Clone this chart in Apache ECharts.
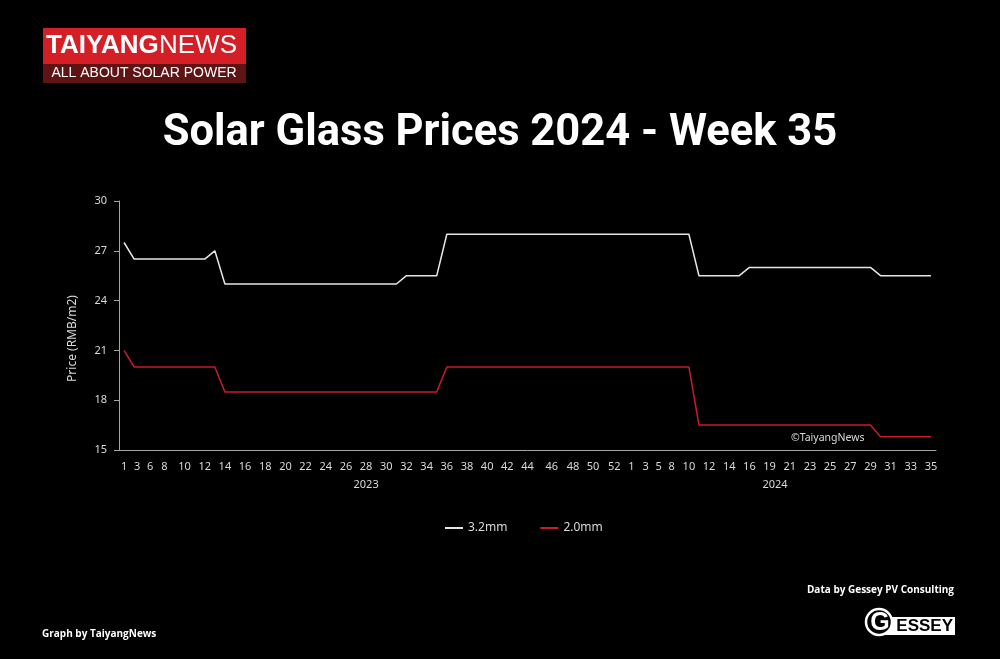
<!DOCTYPE html>
<html>
<head>
<meta charset="utf-8">
<script src="https://cdn.jsdelivr.net/npm/echarts@6/dist/echarts.min.js"></script>
<style>
html,body{margin:0;padding:0;background:#000;}
#chart{width:1000px;height:659px;}
</style>
</head>
<body>
<div id="chart"></div>
<script>
// Week categories (data points as spaced on the source chart)
var weeks2023 = ['1','3','6','7','8','9','10','11','12','13','14','15','16','17','18','19','20','21','22','23','24','25','26','27','28','29','30','31','32','33','34','35','36','37','38','39','40','41','42','43','44','45','46','47','47','48','49','50','51','52'];
var weeks2024 = ['1','2','3','5','8','9','10','11','12','13','14','15','16','18','19','20','21','22','23','24','25','26','27','28','29','30','31','32','33','34','35'];

// Tick labels shown on the axis
var tickLabels2023 = ['1','3','6','8','10','12','14','16','18','20','22','24','26','28','30','32','34','36','38','40','42','44','46','48','50','52'];
var tickLabels2024 = ['1','3','5','8','10','12','14','16','19','21','23','25','27','29','31','33','35'];
var years = ['2023','2024'];

// Prices (RMB/m2)
var glass32_2023 = [27.5,26.5,26.5,26.5,26.5,26.5,26.5,26.5,26.5,27,25,25,25,25,25,25,25,25,25,25,25,25,25,25,25,25,25,25,25.5,25.5,25.5,25.5,28,28,28,28,28,28,28,28,28,28,28,28,28,28,28,28,28,28];
var glass32_2024 = [28,28,28,28,28,28,28,25.5,25.5,25.5,25.5,25.5,26,26,26,26,26,26,26,26,26,26,26,26,26,25.5,25.5,25.5,25.5,25.5,25.5];
var glass20_2023 = [21,20,20,20,20,20,20,20,20,20,18.5,18.5,18.5,18.5,18.5,18.5,18.5,18.5,18.5,18.5,18.5,18.5,18.5,18.5,18.5,18.5,18.5,18.5,18.5,18.5,18.5,18.5,20,20,20,20,20,20,20,20,20,20,20,20,20,20,20,20,20,20];
var glass20_2024 = [20,20,20,20,20,20,20,16.5,16.5,16.5,16.5,16.5,16.5,16.5,16.5,16.5,16.5,16.5,16.5,16.5,16.5,16.5,16.5,16.5,16.5,15.8,15.8,15.8,15.8,15.8,15.8];

var categories = weeks2023.concat(weeks2024);
var n2023 = weeks2023.length;

// which category indices show a tick label
var shown = {};
(function(){
  var j = 0, i;
  for (i = 0; i < weeks2023.length && j < tickLabels2023.length; i++) {
    if (weeks2023[i] === tickLabels2023[j]) { shown[i] = true; j++; }
  }
  j = 0;
  for (i = 0; i < weeks2024.length && j < tickLabels2024.length; i++) {
    if (weeks2024[i] === tickLabels2024[j]) { shown[n2023 + i] = true; j++; }
  }
})();

// small horizontal nudges of some tick labels (layout only)
var labelNudge = { 1: 3, 2: 6, 42: 4, 45: -5, 47: -5, 49: -4, 50: 3, 52: -3, 54: 3 };
var baseLabel = { color: '#d9d9d9', fontFamily: 'Noto Sans', fontSize: 11 };
var richLabels = {};
Object.keys(labelNudge).forEach(function (k) {
  var dx = labelNudge[k];
  richLabels['n' + k] = Object.assign({}, baseLabel, { padding: dx > 0 ? [0, 0, 0, 2 * dx] : [0, -2 * dx, 0, 0] });
});

var yearIdx2023 = 24;
var yearIdx2024 = 64;

var chart = echarts.init(document.getElementById('chart'));
var txt = '#d9d9d9';
var axisCol = '#a6a6a6';
var option = {
  backgroundColor: '#000000',
  animation: false,
  title: {
    text: 'Solar Glass Prices 2024 - Week 35',
    left: 'center',
    top: 107,
    textStyle: { color: '#ffffff', fontFamily: 'Roboto', fontWeight: 'bold', fontSize: 43.5 }
  },
  legend: {
    left: 440,
    top: 517,
    icon: 'rect',
    itemWidth: 18,
    itemHeight: 2,
    itemGap: 33,
    textStyle: { color: txt, fontFamily: 'Noto Sans', fontSize: 12 },
    data: ['3.2mm', '2.0mm']
  },
  grid: { left: 119, right: 64, top: 201, bottom: 209, containLabel: false },
  xAxis: [{
    type: 'category',
    data: categories,
    boundaryGap: true,
    axisLine: { show: true, lineStyle: { color: axisCol, width: 1 } },
    axisTick: { show: false },
    axisLabel: {
      color: txt, fontFamily: 'Noto Sans', fontSize: 11, margin: 11,
      hideOverlap: false,
      interval: function (index) { return !!shown[index]; },
      formatter: function (v, index) {
        return labelNudge[index] !== undefined ? '{n' + index + '|' + v + '}' : v;
      },
      rich: richLabels
    }
  }, {
    type: 'category',
    data: categories,
    boundaryGap: true,
    position: 'bottom',
    offset: 18,
    axisLine: { show: false },
    axisTick: { show: false },
    axisLabel: {
      color: txt, fontFamily: 'Noto Sans', fontSize: 11, margin: 11,
      interval: function (index) { return index === yearIdx2023 || index === yearIdx2024; },
      formatter: function (v, index) {
        if (index === yearIdx2023) return years[0];
        if (index === yearIdx2024) return '{p|' + years[1] + '}';
        return '';
      },
      rich: { p: { color: txt, fontFamily: 'Noto Sans', fontSize: 11, padding: [0, 0, 0, 11] } }
    }
  }],
  yAxis: {
    type: 'value',
    min: 15,
    max: 30,
    interval: 3,
    name: 'Price (RMB/m2)',
    nameLocation: 'middle',
    nameGap: 40,
    nameTextStyle: { color: txt, fontFamily: 'Noto Sans', fontSize: 12, padding: [0, 26, 0, 0] },
    axisLine: { show: true, lineStyle: { color: axisCol, width: 1 } },
    axisTick: { show: true, length: 5, lineStyle: { color: axisCol } },
    splitLine: { show: false },
    axisLabel: { color: txt, fontFamily: 'Noto Sans', fontSize: 11, margin: 12 }
  },
  series: [{
    name: '3.2mm',
    type: 'line',
    data: glass32_2023.concat(glass32_2024),
    showSymbol: false,
    symbol: 'none',
    itemStyle: { color: '#e6e6e6' },
    lineStyle: { color: '#e6e6e6', width: 1.5 }
  }, {
    name: '2.0mm',
    type: 'line',
    data: glass20_2023.concat(glass20_2024),
    showSymbol: false,
    symbol: 'none',
    itemStyle: { color: '#c81a2a' },
    lineStyle: { color: '#c81a2a', width: 1.5 }
  }],
  graphic: [
    { type: 'rect', shape: { x: 43, y: 28, width: 203, height: 36 }, style: { fill: '#d51f26' } },
    { type: 'rect', shape: { x: 43, y: 64, width: 203, height: 19 }, style: { fill: '#5e1414' } },
    { type: 'text', style: { x: 46, y: 46, text: 'TAIYANG', fill: '#ffffff', font: 'bold 26px "Liberation Sans"', textVerticalAlign: 'middle' } },
    { type: 'text', style: { x: 159, y: 46, text: 'NEWS', fill: '#ffffff', font: '26px "Liberation Sans"', textVerticalAlign: 'middle' } },
    { type: 'text', style: { x: 144, y: 73.5, text: 'ALL ABOUT SOLAR POWER', fill: '#ffffff', font: '14px "Liberation Sans"', textAlign: 'center', textVerticalAlign: 'middle' } },
    { type: 'text', style: { x: 791, y: 438, text: '©TaiyangNews', fill: '#d9d9d9', font: '10.5px "Noto Sans"', textVerticalAlign: 'middle' } },
    { type: 'text', style: { x: 954, y: 590, text: 'Data by Gessey PV Consulting', fill: '#ffffff', font: 'bold 10px "Open Sans"', textAlign: 'right', textVerticalAlign: 'middle' } },
    { type: 'text', style: { x: 42, y: 634, text: 'Graph by TaiyangNews', fill: '#ffffff', font: 'bold 10px "Open Sans"', textVerticalAlign: 'middle' } },
    { type: 'rect', shape: { x: 883, y: 617, width: 72, height: 18 }, style: { fill: '#ffffff' } },
    { type: 'text', style: { x: 953, y: 626.5, text: 'ESSEY', fill: '#000000', font: 'bold 17px "Liberation Sans"', textAlign: 'right', textVerticalAlign: 'middle' } },
    { type: 'circle', shape: { cx: 879, cy: 622, r: 13 }, style: { fill: '#000000', stroke: '#ffffff', lineWidth: 2.5 } },
    { type: 'text', style: { x: 880, y: 623, text: 'G', fill: '#ffffff', font: 'bold 25px "Liberation Sans"', textAlign: 'center', textVerticalAlign: 'middle' } }
  ]
};
chart.setOption(option);
</script>
</body>
</html>
